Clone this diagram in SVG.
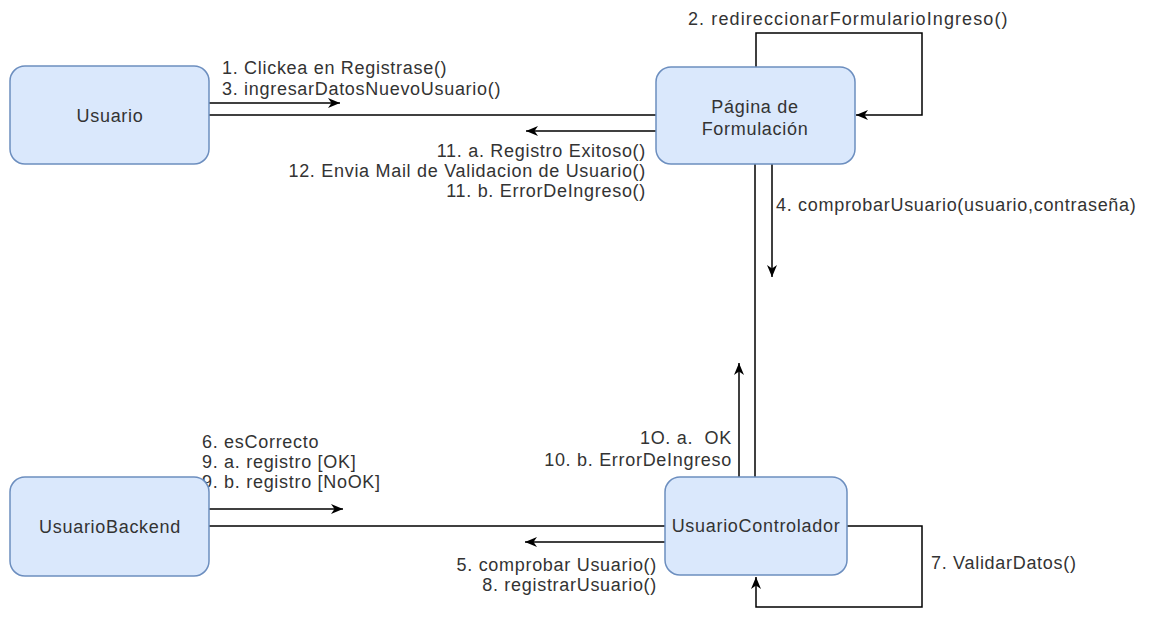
<svg xmlns="http://www.w3.org/2000/svg" width="1153" height="618" viewBox="0 0 1153 618">
  <style>
    .node rect { fill: #dae8fc; stroke: #6c8ebf; stroke-width: 1.5; }
    .node text { font-family: "Liberation Sans", Arial, sans-serif; font-size: 18px; fill: #333333; text-anchor: middle; letter-spacing: 0.7px; }
    .edge { fill: none; stroke: #000000; stroke-width: 1.5; }
    .arrow { marker-end: url(#head); }
    .lbl { font-family: "Liberation Sans", Arial, sans-serif; font-size: 18px; fill: #333333; letter-spacing: 0.7px; }
    .r { text-anchor: end; }
  </style>
  <defs>
    <marker id="head" markerUnits="userSpaceOnUse" markerWidth="14" markerHeight="12" refX="12" refY="5" orient="auto">
      <path d="M0,0 L12,5 L0,10 L3.5,5 Z" fill="#000000"/>
    </marker>
  </defs>
  <rect width="1153" height="618" fill="#ffffff"/>

  <!-- message labels -->
  <g id="labels">
    <text class="lbl" x="222" y="74">1. Clickea en Registrase()</text>
    <text class="lbl" x="222" y="95">3. ingresarDatosNuevoUsuario()</text>
    <text class="lbl" x="688" y="25" style="letter-spacing:1.1px">2. redireccionarFormularioIngreso()</text>
    <text class="lbl r" x="646" y="157">11. a. Registro Exitoso()</text>
    <text class="lbl r" x="646" y="177">12. Envia Mail de Validacion de Usuario()</text>
    <text class="lbl r" x="646" y="197">11. b. ErrorDeIngreso()</text>
    <text class="lbl" x="776" y="211">4. comprobarUsuario(usuario,contraseña)</text>
    <text class="lbl" x="202" y="448">6. esCorrecto</text>
    <text class="lbl" x="202" y="468">9. a. registro [OK]</text>
    <text class="lbl" x="202" y="488">9. b. registro [NoOK]</text>
    <text class="lbl r" x="732" y="444">1O. a.&#160; OK</text>
    <text class="lbl r" x="732" y="466">10. b. ErrorDeIngreso</text>
    <text class="lbl r" x="657" y="571">5. comprobar Usuario()</text>
    <text class="lbl r" x="657" y="591">8. registrarUsuario()</text>
    <text class="lbl" x="931" y="569">7. ValidarDatos()</text>
  </g>

  <!-- connectors -->
  <g id="connectors">
    <line class="edge arrow" x1="209" y1="103" x2="340" y2="103"/>
    <line class="edge" x1="209" y1="115" x2="656" y2="115"/>
    <line class="edge arrow" x1="656" y1="131" x2="526" y2="131"/>
    <path class="edge arrow" d="M756,67 V33 H922 V115 H856"/>
    <line class="edge" x1="755" y1="164" x2="755" y2="477"/>
    <line class="edge arrow" x1="772" y1="164" x2="772" y2="277"/>
    <line class="edge arrow" x1="739" y1="477" x2="739" y2="363"/>
    <line class="edge arrow" x1="209" y1="509" x2="343" y2="509"/>
    <line class="edge" x1="209" y1="526" x2="665" y2="526"/>
    <line class="edge arrow" x1="665" y1="542" x2="525" y2="542"/>
    <path class="edge arrow" d="M847,526 H922 V607 H756 V577"/>
  </g>

  <!-- nodes -->
  <g id="usuario" class="node">
    <rect x="10" y="66" width="199" height="98" rx="15"/>
    <text x="110" y="122">Usuario</text>
  </g>
  <g id="pagina" class="node">
    <rect x="656" y="67" width="199" height="97" rx="15"/>
    <text x="755" y="113">Página de</text>
    <text x="755" y="135">Formulación</text>
  </g>
  <g id="usuario-backend" class="node">
    <rect x="10" y="477" width="199" height="99" rx="15"/>
    <text x="110" y="533">UsuarioBackend</text>
  </g>
  <g id="usuario-controlador" class="node">
    <rect x="665" y="477" width="182" height="98" rx="15"/>
    <text x="756" y="532">UsuarioControlador</text>
  </g>
</svg>
